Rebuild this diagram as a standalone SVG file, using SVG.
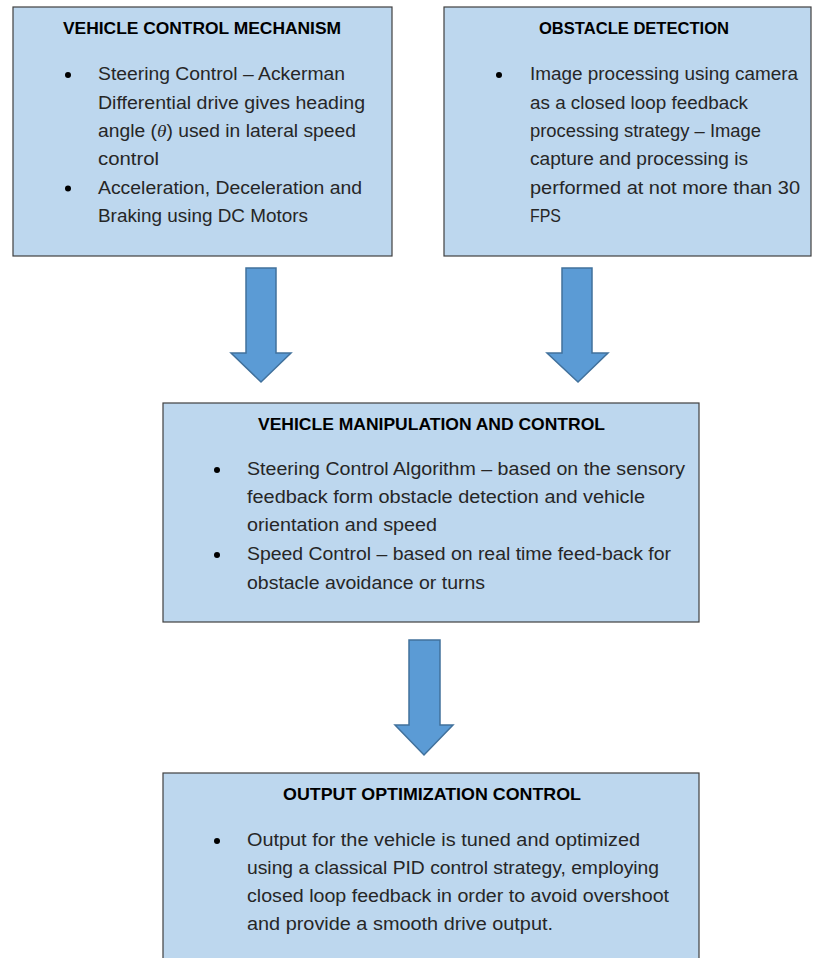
<svg xmlns="http://www.w3.org/2000/svg" width="813" height="958" viewBox="0 0 813 958">
<style>
.box{fill:#BDD7EE;stroke:#404040;stroke-width:1.2}
.t{font-family:"Liberation Sans","Noto Sans",sans-serif;font-size:16.5px;font-weight:bold;fill:#000}
.b{font-family:"Liberation Sans","Noto Sans",sans-serif;font-size:17.5px;fill:#262626}
.dot{fill:#000}
.arr{fill:#5B9BD5;stroke:#41719C;stroke-width:1.5;stroke-linejoin:miter}
.m{font-family:"Liberation Serif",serif;font-style:italic}
</style>
<rect width="813" height="958" fill="#fff"/>
<g id="vehicle-control-mechanism">
<rect class="box" x="13" y="7" width="379" height="249"/>
<text class="t" x="63" y="34" textLength="278" lengthAdjust="spacingAndGlyphs">VEHICLE CONTROL MECHANISM</text>
<circle class="dot" cx="68" cy="75" r="3"/>
<circle class="dot" cx="68" cy="188.5" r="3"/>
<text class="b" x="98" y="80" textLength="247" lengthAdjust="spacingAndGlyphs">Steering Control – Ackerman</text>
<text class="b" x="98" y="109" textLength="267" lengthAdjust="spacingAndGlyphs">Differential drive gives heading</text>
<text class="b" x="98" y="137" textLength="258" lengthAdjust="spacingAndGlyphs">angle (<tspan class="m">θ</tspan>) used in lateral speed</text>
<text class="b" x="98" y="165" textLength="61" lengthAdjust="spacingAndGlyphs">control</text>
<text class="b" x="98" y="194" textLength="264" lengthAdjust="spacingAndGlyphs">Acceleration, Deceleration and</text>
<text class="b" x="98" y="222" textLength="210" lengthAdjust="spacingAndGlyphs">Braking using DC Motors</text>
</g>
<g id="obstacle-detection">
<rect class="box" x="444" y="7" width="367" height="249"/>
<text class="t" x="539" y="34" textLength="190" lengthAdjust="spacingAndGlyphs">OBSTACLE DETECTION</text>
<circle class="dot" cx="499" cy="75" r="3"/>
<text class="b" x="530" y="80" textLength="268" lengthAdjust="spacingAndGlyphs">Image processing using camera</text>
<text class="b" x="530" y="109" textLength="218" lengthAdjust="spacingAndGlyphs">as a closed loop feedback</text>
<text class="b" x="530" y="137" textLength="231" lengthAdjust="spacingAndGlyphs">processing strategy – Image</text>
<text class="b" x="530" y="165" textLength="218" lengthAdjust="spacingAndGlyphs">capture and processing is</text>
<text class="b" x="530" y="194" textLength="270" lengthAdjust="spacingAndGlyphs">performed at not more than 30</text>
<text class="b" x="530" y="222" textLength="31" lengthAdjust="spacingAndGlyphs">FPS</text>
</g>
<g id="vehicle-manipulation-and-control">
<rect class="box" x="163" y="403" width="536" height="219"/>
<text class="t" x="258" y="430" textLength="347" lengthAdjust="spacingAndGlyphs">VEHICLE MANIPULATION AND CONTROL</text>
<circle class="dot" cx="217" cy="470" r="3"/>
<circle class="dot" cx="217" cy="555" r="3"/>
<text class="b" x="247" y="475" textLength="438" lengthAdjust="spacingAndGlyphs">Steering Control Algorithm – based on the sensory</text>
<text class="b" x="247" y="503" textLength="398" lengthAdjust="spacingAndGlyphs">feedback form obstacle detection and vehicle</text>
<text class="b" x="247" y="531" textLength="190" lengthAdjust="spacingAndGlyphs">orientation and speed</text>
<text class="b" x="247" y="560" textLength="424" lengthAdjust="spacingAndGlyphs">Speed Control – based on real time feed-back for</text>
<text class="b" x="247" y="589" textLength="238" lengthAdjust="spacingAndGlyphs">obstacle avoidance or turns</text>
</g>
<g id="output-optimization-control">
<rect class="box" x="163" y="773" width="536" height="200"/>
<text class="t" x="283" y="800" textLength="298" lengthAdjust="spacingAndGlyphs">OUTPUT OPTIMIZATION CONTROL</text>
<circle class="dot" cx="217" cy="841" r="3"/>
<text class="b" x="247" y="846" textLength="393" lengthAdjust="spacingAndGlyphs">Output for the vehicle is tuned and optimized</text>
<text class="b" x="247" y="874" textLength="412" lengthAdjust="spacingAndGlyphs">using a classical PID control strategy, employing</text>
<text class="b" x="247" y="902" textLength="422" lengthAdjust="spacingAndGlyphs">closed loop feedback in order to avoid overshoot</text>
<text class="b" x="247" y="930" textLength="306" lengthAdjust="spacingAndGlyphs">and provide a smooth drive output.</text>
</g>
<g id="connectors">
<polygon class="arr" points="246,268 276,268 276,353 291,353 261,382 231,353 246,353"/>
<polygon class="arr" points="562,268 592,268 592,353 608,353 578,382 547,353 562,353"/>
<polygon class="arr" points="409,640 440,640 440,725 453,725 424,755 395,725 409,725"/>
</g>
</svg>
